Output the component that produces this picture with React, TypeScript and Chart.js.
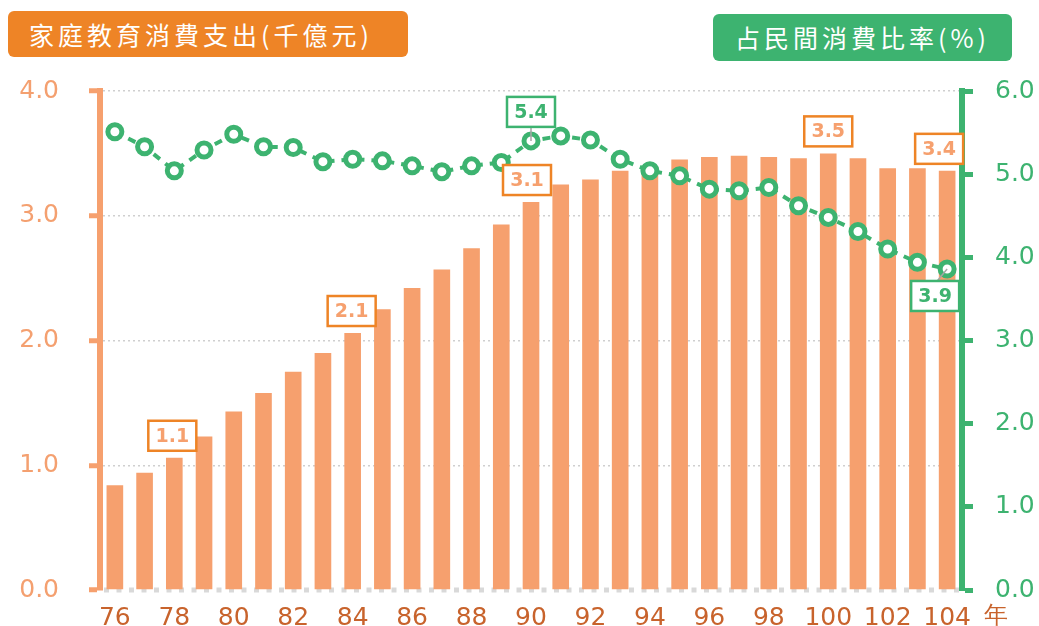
import React, { useEffect, useRef } from 'react';
import { Chart, registerables } from 'chart.js';

Chart.register(...registerables);

const years = ['76', '77', '78', '79', '80', '81', '82', '83', '84', '85', '86', '87', '88', '89', '90', '91', '92', '93', '94', '95', '96', '97', '98', '99', '100', '101', '102', '103', '104'];
const educationSpending = [0.84, 0.94, 1.06, 1.23, 1.43, 1.58, 1.75, 1.9, 2.06, 2.25, 2.42, 2.57, 2.74, 2.93, 3.11, 3.25, 3.29, 3.36, 3.39, 3.45, 3.47, 3.48, 3.47, 3.46, 3.5, 3.46, 3.38, 3.38, 3.36];
const consumptionShare = [5.51, 5.33, 5.04, 5.29, 5.48, 5.33, 5.32, 5.15, 5.18, 5.16, 5.1, 5.03, 5.1, 5.14, 5.4, 5.46, 5.41, 5.18, 5.04, 4.98, 4.82, 4.8, 4.84, 4.62, 4.48, 4.31, 4.1, 3.94, 3.86];
const barLabelYears = ['78', '84', '90', '100', '104'];
const lineLabelYears = ['90', '104'];
const leftTitle = '家庭教育消費支出(千億元)';
const rightTitle = '占民間消費比率(%)';
const yearUnit = '年';

const ORANGE = '#EE8426';
const PEACH = '#F6A06E';
const GREEN = '#3DB370';
const XLABEL = '#C8632C';
const FONT = '"DejaVu Sans", sans-serif';

const barShift: Record<string, number> = { '78': -2, '84': -1, '90': -4, '100': 0, '104': -8 };

const overlayPlugin = {
  id: 'overlay',
  beforeDatasetsDraw(chart: any) {
    const { ctx, chartArea } = chart;
    const y = chart.scales.y.getPixelForValue(0);
    ctx.save();
    ctx.strokeStyle = '#D9D9D9';
    ctx.lineWidth = 5;
    ctx.setLineDash([5, 7.5]);
    ctx.beginPath();
    ctx.moveTo(chartArea.left + 4, y);
    ctx.lineTo(chartArea.right - 3, y);
    ctx.stroke();
    ctx.restore();
  },
  afterDatasetsDraw(chart: any) {
    const { ctx } = chart;
    const w = 48;
    const h = 30;
    const drawBox = (cx: number, cy: number, text: string, border: string, color: string) => {
      ctx.save();
      ctx.fillStyle = '#ffffff';
      ctx.fillRect(cx - w / 2, cy - h / 2, w, h);
      ctx.strokeStyle = border;
      ctx.lineWidth = 2.5;
      ctx.strokeRect(cx - w / 2, cy - h / 2, w, h);
      ctx.fillStyle = color;
      ctx.font = 'bold 19px ' + FONT;
      ctx.textAlign = 'center';
      ctx.textBaseline = 'middle';
      ctx.fillText(text, cx, cy + 1);
      ctx.restore();
    };
    const barMeta = chart.getDatasetMeta(1);
    barLabelYears.forEach((yr) => {
      const i = years.indexOf(yr);
      const el = barMeta.data[i];
      const cx = el.x + (barShift[yr] || 0);
      const cy = el.y - 7 - h / 2;
      drawBox(cx, cy, educationSpending[i].toFixed(1), ORANGE, PEACH);
    });
    const lineMeta = chart.getDatasetMeta(0);
    lineLabelYears.forEach((yr, k) => {
      const i = years.indexOf(yr);
      const el = lineMeta.data[i];
      let cx: number, cy: number, lx: number, ly: number;
      if (k === 0) {
        cx = el.x;
        cy = el.y - 29;
        lx = el.x;
        ly = cy + h / 2;
      } else {
        cx = el.x - 12;
        cy = el.y + 27;
        lx = cx + 2;
        ly = cy - h / 2;
      }
      ctx.save();
      ctx.strokeStyle = '#A6A6A6';
      ctx.lineWidth = 1.5;
      ctx.beginPath();
      ctx.moveTo(lx, ly);
      ctx.lineTo(el.x, el.y);
      ctx.stroke();
      ctx.restore();
      drawBox(cx, cy, consumptionShare[i].toFixed(1), GREEN, GREEN);
    });
    const xs = chart.scales.x;
    ctx.save();
    ctx.fillStyle = XLABEL;
    ctx.font = '24px ' + FONT;
    ctx.textAlign = 'center';
    ctx.textBaseline = 'middle';
    ctx.fillText(yearUnit, 996, xs.top + 27);
    ctx.restore();
  },
};

export default function App() {
  const canvasRef = useRef<HTMLCanvasElement | null>(null);

  useEffect(() => {
    if (!canvasRef.current) return;
    const chart = new Chart(canvasRef.current, {
      type: 'bar',
      data: {
        labels: years,
        datasets: [
          {
            type: 'line',
            label: rightTitle,
            data: consumptionShare,
            yAxisID: 'y1',
            borderColor: GREEN,
            borderWidth: 4,
            borderDash: [8, 7],
            pointRadius: 7,
            pointBorderWidth: 5,
            pointBackgroundColor: '#ffffff',
            pointBorderColor: GREEN,
            tension: 0,
            order: 0,
          } as any,
          {
            type: 'bar',
            label: leftTitle,
            data: educationSpending,
            yAxisID: 'y',
            backgroundColor: PEACH,
            barPercentage: 0.56,
            categoryPercentage: 1,
            order: 1,
          },
        ],
      },
      options: {
        animation: false,
        responsive: false,
        maintainAspectRatio: false,
        layout: { padding: { top: 91, left: 0, right: 0, bottom: 0 } },
        plugins: {
          legend: { display: false },
          title: { display: false },
          tooltip: { enabled: false },
        },
        scales: {
          x: {
            grid: { display: false, drawTicks: false },
            border: { display: false },
            ticks: {
              autoSkip: false,
              maxRotation: 0,
              minRotation: 0,
              padding: 13,
              color: XLABEL,
              font: { family: FONT, size: 25 },
              callback: (_v: any, i: number) => (i % 2 === 0 ? years[i] : ''),
            },
            afterFit: (s: any) => {
              s.height = 36;
            },
          },
          y: {
            position: 'left',
            min: 0,
            max: 4,
            grid: {
              color: (c: any) => (c.tick && c.tick.value === 0 ? 'rgba(0,0,0,0)' : '#CFCFCF'),
              lineWidth: 1.5,
              tickLength: 11,
              tickWidth: 5,
              tickColor: PEACH,
            },
            border: { display: true, color: PEACH, width: 6, dash: [2, 3] },
            ticks: {
              stepSize: 1,
              padding: 30,
              color: '#F4A070',
              font: { family: FONT, size: 25, lineHeight: 0.3 },
              callback: (v: any) => Number(v).toFixed(1),
            },
            afterFit: (s: any) => {
              s.width = 100;
            },
          },
          y1: {
            position: 'right',
            min: 0,
            max: 6,
            grid: {
              drawOnChartArea: false,
              tickLength: 11,
              tickWidth: 5,
              tickColor: GREEN,
            },
            border: { display: true, color: GREEN, width: 6 },
            ticks: {
              stepSize: 1,
              padding: 22,
              color: GREEN,
              font: { family: FONT, size: 25, lineHeight: 0.3 },
              callback: (v: any) => Number(v).toFixed(1),
            },
            afterFit: (s: any) => {
              s.width = 77;
            },
          },
        },
      },
      plugins: [overlayPlugin],
    });
    return () => chart.destroy();
  }, []);

  const headerBase: React.CSSProperties = {
    position: 'absolute',
    color: '#ffffff',
    fontFamily: '"Noto Sans CJK TC", sans-serif',
    fontSize: 25,
    letterSpacing: 4,
    borderRadius: 6,
    boxSizing: 'border-box',
    whiteSpace: 'nowrap',
  };

  return (
    <div style={{ position: 'absolute', left: 0, top: 0, width: 1039, height: 626, background: '#ffffff', overflow: 'hidden' }}>
      <canvas ref={canvasRef} width={1039} height={626} style={{ display: 'block', width: 1039, height: 626 }} />
      <div style={{ ...headerBase, left: 8, top: 11, width: 400, height: 46, lineHeight: '46px', paddingLeft: 21, background: ORANGE }}>
        {leftTitle}
      </div>
      <div style={{ ...headerBase, left: 713, top: 14, width: 299, height: 47, lineHeight: '47px', paddingLeft: 22, background: GREEN }}>
        {rightTitle}
      </div>
    </div>
  );
}
